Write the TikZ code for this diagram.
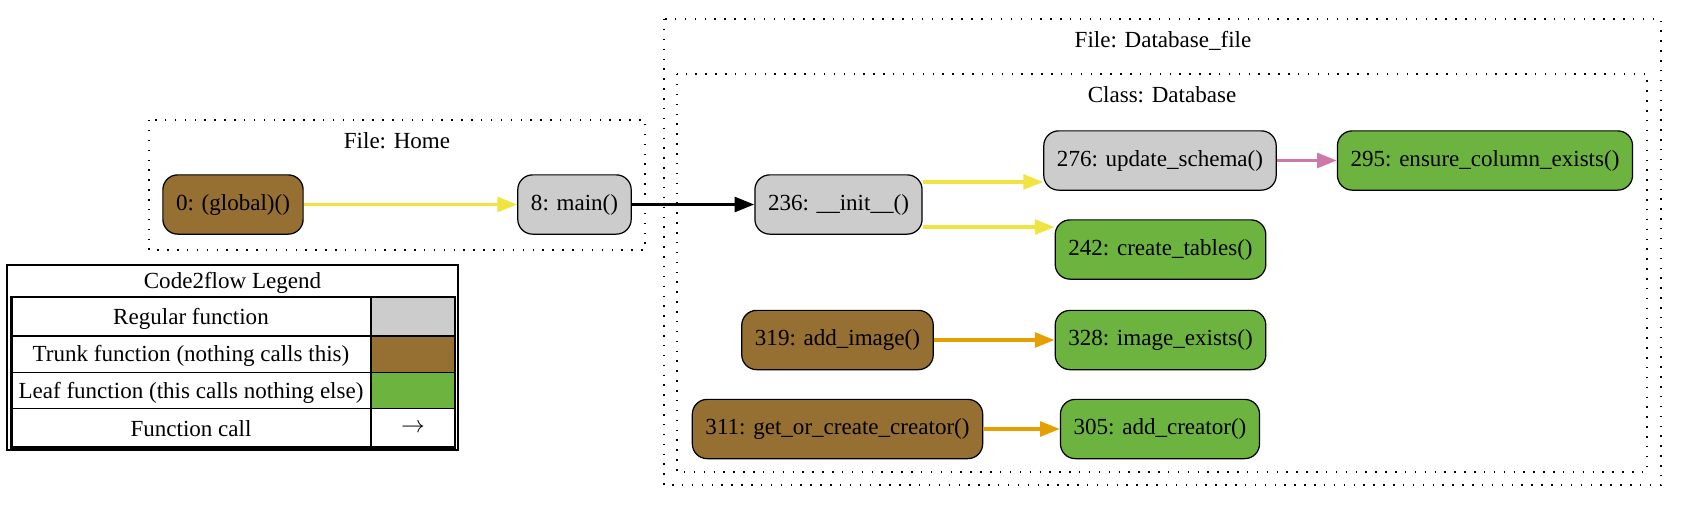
\documentclass[tikz,border=0pt]{standalone}
\usepackage{fontspec}
\setmainfont{Liberation Serif}
\usepackage{tikz}
\usetikzlibrary{arrows.meta, positioning}
\definecolor{trunkbrown}{HTML}{966F33}
\definecolor{leafgreen}{HTML}{6DB33F}
\definecolor{regulargray}{HTML}{CCCCCC}
\definecolor{callyellow}{HTML}{F0E442}
\definecolor{callorange}{HTML}{E69F00}
\definecolor{callpink}{HTML}{CC79A7}

\begin{document}
\begin{tikzpicture}[x=0.6075pt, y=-0.6075pt, every node/.style={font=\fontsize{14pt}{17pt}\selectfont, inner sep=0pt}]
  \tikzset{fn/.style={draw, line width=0.75pt, rounded corners=9pt, minimum height=36pt, inner xsep=8pt},
    regular/.style={fn, fill=regulargray}, trunk/.style={fn, fill=trunkbrown}, leaf/.style={fn, fill=leafgreen},
    cluster/.style={draw, line width=0.9pt, dash pattern=on 0.9pt off 5.1pt},
    call/.style={line width=2pt, -{Triangle[length=12pt, width=9pt]}}}
  \useasboundingbox (0,0) rectangle (1681,506);
  % file and class boxes
  \draw[cluster] (149,120) rectangle (645,250);
  \draw[cluster] (664,19) rectangle (1661,485);
  \draw[cluster] (677,74) rectangle (1647,472);
  \node (homettl) at (397,141) {File: Home};
  \node (filettl) at (1163,41) {File: Database\_file};
  \node (classttl) at (1162,95) {Class: Database};
  % functions
  \node[trunk] (glob) at (233,204.5) {0: (global)()};
  \node[regular] (main) at (574.5,204.5) {8: main()};
  \node[regular] (init) at (838.5,204.5) {236: \_\_init\_\_()};
  \node[regular] (upd) at (1160,160.5) {276: update\_schema()};
  \node[leaf] (ens) at (1485,160.5) {295: ensure\_column\_exists()};
  \node[leaf] (crt) at (1160.5,249.5) {242: create\_tables()};
  \node[trunk] (addimg) at (837.5,340) {319: add\_image()};
  \node[leaf] (imgex) at (1160.5,340) {328: image\_exists()};
  \node[trunk] (goc) at (837.5,429) {311: get\_or\_create\_creator()};
  \node[leaf] (addcr) at (1160,429) {305: add\_creator()};
  % calls
  \coordinate (initup) at ([yshift=13.7pt]init.east);
  \coordinate (initdn) at ([yshift=-13.7pt]init.east);
  \draw[call, callyellow] (glob) -- (main);
  \draw[call, black] (main) -- (init);
  \draw[call, callyellow] (initup) -- (initup -| upd.west);
  \draw[call, callyellow] (initdn) -- (initdn -| crt.west);
  \draw[call, callpink] (upd) -- (ens);
  \draw[call, callorange] (addimg) -- (imgex);
  \draw[call, callorange] (goc) -- (addcr);
  % legend
  \fill[regulargray] (372,298) rectangle (455,336);
  \fill[trunkbrown] (372,336) rectangle (455,372.5);
  \fill[leafgreen] (372,372.5) rectangle (455,408.5);
  \draw[line width=1.2pt] (7,265) rectangle (458,450);
  \draw[line width=0.8pt] (371,297) -- (371,447.5);
  \foreach \y in {336,372.5,408.5}
    \draw[line width=0.8pt] (11.5,\y) -- (455,\y);
  \draw[line width=1.5pt] (11.5,297) rectangle (455,447.5);
  \node (lgttl) at (232.5,282.5) {Code2flow Legend};
  \node (lgreg) at (191,319) {Regular function};
  \node (lgtrunk) at (191,356) {Trunk function (nothing calls this)};
  \node (lgleaf) at (191,392.5) {Leaf function (this calls nothing else)};
  \node (lgcall) at (191,429) {Function call};
  \node (lgarrow) at (413,428) {$\rightarrow$};
\end{tikzpicture}
\end{document}
